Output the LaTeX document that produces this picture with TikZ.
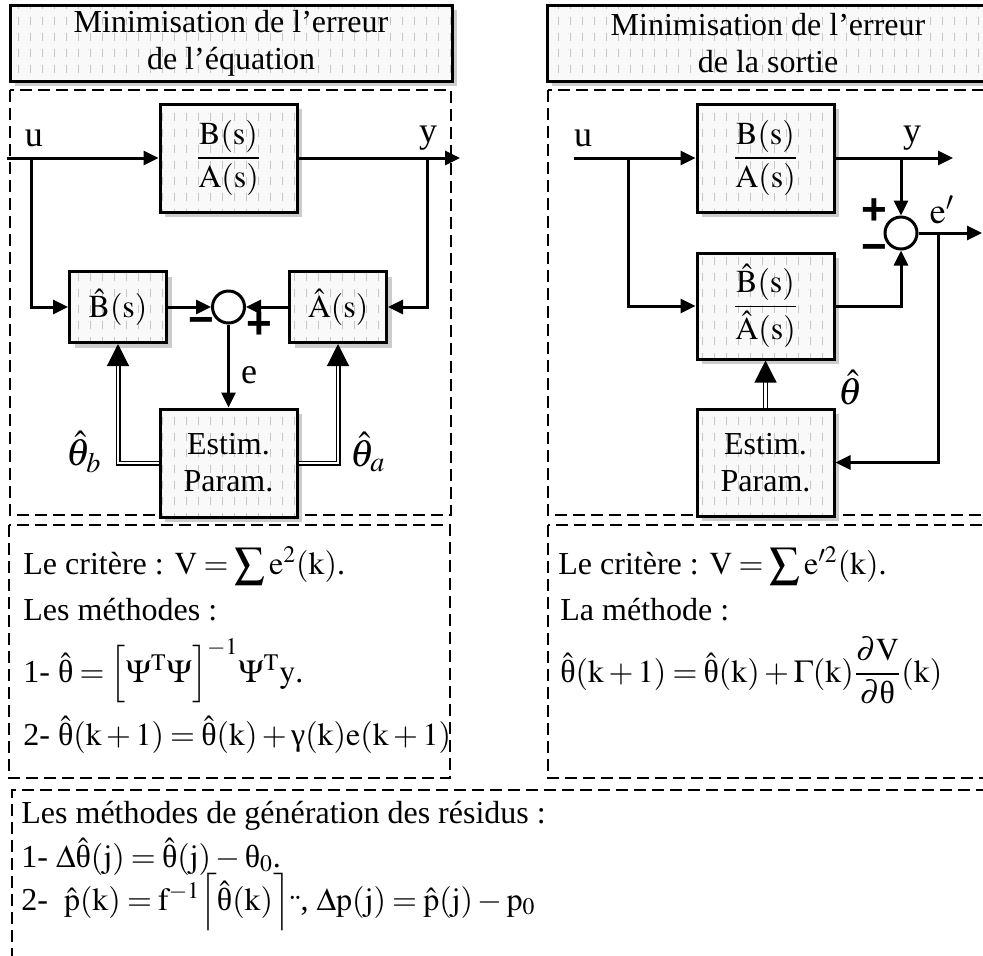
\documentclass[tikz,border=0pt]{standalone}
\usepackage{mathptmx}
\usepackage{amsmath}
\usepackage{fontspec}
\setmainfont{Liberation Serif}
\setsansfont{Liberation Sans}
\usetikzlibrary{arrows.meta,positioning,patterns,shadows}
\pgfdeclarepatternformonly{vdash}{\pgfqpoint{-1pt}{-1pt}}{\pgfqpoint{7pt}{9pt}}{\pgfqpoint{6pt}{8pt}}{\pgfsetlinewidth{0.5pt}\pgfpathmoveto{\pgfqpoint{3pt}{1pt}}\pgfpathlineto{\pgfqpoint{3pt}{5pt}}\pgfusepath{stroke}}
\newcommand{\thhat}{\hat{\text{θ}}}
\newcommand{\Vsum}{\mathop{\vcenter{\hbox{\scalebox{1.35}{$\sum$}}}}}
\medmuskip=2.5mu
\thickmuskip=3.5mu

\begin{document}
\begin{tikzpicture}[x=0.5pt,y=-0.5pt,every node/.style={font=\fontsize{16}{18.5}\selectfont},
hatch/.style={draw,line width=1.5pt,drop shadow={shadow xshift=2.5pt,shadow yshift=-2.5pt,opacity=1,fill=gray!40},preaction={fill=gray!5},pattern=vdash,pattern color=gray!45},
titlebox/.style={hatch,minimum width=221pt,minimum height=38pt,align=center,inner sep=0pt},
fr/.style={hatch,minimum width=68.5pt,minimum height=54pt,align=center,inner sep=0pt},
sm/.style={hatch,minimum width=48.5pt,minimum height=35.5pt,inner sep=0pt},
sum/.style={circle,draw,line width=1.5pt,minimum size=16pt,inner sep=0pt,fill=white},
arr/.style={line width=1.5pt,-{Triangle[length=7.5pt,width=7pt]}},
dbl/.style={double,double distance=1.3pt,line width=0.6pt,-{Triangle[length=11pt,width=11pt]}},
dbox/.style={line width=0.8pt,dash pattern=on 6pt off 3pt},
txt/.style={anchor=base west,inner sep=0pt},
lbl/.style={font=\fontsize{18}{18}\selectfont},
thl/.style={font=\fontsize{19}{19}\selectfont},
sgn/.style={font=\fontsize{22}{22}\sffamily\bfseries}]
\useasboundingbox (0,0) rectangle (983,955);
\clip (0,0) rectangle (983,955);
\draw[dbox] (10,90) rectangle (451,515);
\draw[dbox] (548,90) rectangle (989,515);
\draw[dbox] (9,525) rectangle (450,778);
\draw[dbox] (548,525) rectangle (989,778);
\draw[dbox] (12,960) -- (12,790) -- (995,790);
\node[titlebox] (T1) at (231,43) {Minimisation de l’erreur\\de l’équation};
\node[titlebox] (T2) at (768,43) {Minimisation de l’erreur\\de la sortie};
% erreur de l'equation
\node[fr] (G1) at (228.5,158) {$\dfrac{\mathrm{B}(\mathrm{s})}{\mathrm{A}(\mathrm{s})}$};
\node[sum,below=38pt of G1] (s1) {};
\node[sm,left=21.5pt of s1] (Bh) {$\hat{\mathrm{B}}(\mathrm{s})$};
\node[sm,right=21pt of s1] (Ah) {$\hat{\mathrm{A}}(\mathrm{s})$};
\node[fr,below=41.5pt of s1] (E1) {Estim.\\Param.};
\coordinate (u1) at (7,158); \coordinate (y1) at (460,158);
\coordinate (b1) at (31,158); \coordinate (b2) at (427,158);
\draw[arr](u1)--(G1);\draw[arr](G1)--(y1);\draw[arr](b1)|-(Bh);\draw[arr](b2)|-(Ah);
\draw[arr](Bh)--(s1);\draw[arr](Ah)--(s1);\draw[arr](s1)--(E1);
\draw[dbl](E1.west)-|(Bh);\draw[dbl](E1.east)-|(Ah);
\node[lbl] (lu1) at (34,138) {u};
\node[lbl] (ly1) at (428,138) {y};
\node[lbl] (le1) at (249,375) {e};
\node[sgn] (m1) at (201,326) {−};
\node[sgn] (p1) at (259,326) {+};
\node[thl] (tb) at (84,452) {$\hat{\theta}_b$};
\node[thl] (ta) at (368,452) {$\hat{\theta}_a$};
% erreur de la sortie
\node[fr] (G2) at (765.5,158) {$\dfrac{\mathrm{B}(\mathrm{s})}{\mathrm{A}(\mathrm{s})}$};
\node[fr,below=19pt of G2,minimum height=53pt] (G3) {$\dfrac{\hat{\mathrm{B}}(\mathrm{s})}{\hat{\mathrm{A}}(\mathrm{s})}$};
\node[fr,below=23.5pt of G3,minimum height=53.5pt] (E2) {Estim.\\Param.};
\node[sum] (s2) at (901,233) {};
\coordinate (u2) at (574,158); \coordinate (y2) at (953,158); \coordinate (o2) at (982,233);
\coordinate (b3) at (628,158); \coordinate (b4) at (901,158); \coordinate (b5) at (938,233);
\draw[arr](u2)--(G2);\draw[arr](G2)--(y2);\draw[arr](b3)|-(G3);\draw[arr](b4)--(s2);
\draw[arr](G3)-|(s2);\draw[arr](s2)--(o2);\draw[arr](b5)|-(E2);\draw[dbl](E2)--(G3);
\node[lbl] (lu2) at (583,138) {u};
\node[lbl] (ly2) at (912,138) {y};
\node[lbl] (le2) at (942,210) {$\mathrm{e}'$};
\node[sgn] (p2) at (874,212) {+};
\node[sgn] (m2) at (874,253) {−};
\node[thl] (th) at (851,388) {$\hat{\theta}$};
% textes
\node[txt] (c1) at (23,574) {Le critère : $\mathrm{V}=\Vsum\mathrm{e}^{2}(\mathrm{k})$.};
\node[txt] (c2) at (23,620) {Les méthodes :};
\node[txt] (c3) at (23,682) {1- $\thhat=\Bigl[\Psi^{\mathrm{T}}\Psi\Bigr]^{-1}\Psi^{\mathrm{T}}\mathrm{y}$.};
\node[txt] (c4) at (23,745) {2- $\thhat(\mathrm{k}+1)=\thhat(\mathrm{k})+\text{γ}(\mathrm{k})\mathrm{e}(\mathrm{k}+1)$};
\node[txt] (d1) at (558,574) {Le critère : $\mathrm{V}=\Vsum\mathrm{e}^{\prime 2}(\mathrm{k})$.};
\node[txt] (d2) at (560,620) {La méthode :};
\node[txt] (d3) at (560,682) {$\thhat(\mathrm{k}+1)=\thhat(\mathrm{k})+\Gamma(\mathrm{k})\dfrac{\partial\mathrm{V}}{\partial\text{θ}}(\mathrm{k})$};
\node[txt] (r1) at (21,823) {Les méthodes de génération des résidus :};
\node[txt] (r2) at (21,867) {1- $\Delta\thhat(\mathrm{j})=\thhat(\mathrm{j})-\text{θ}_{0}$.};
\node[txt] (r3) at (21,910) {2- \ $\hat{\mathrm{p}}(\mathrm{k})=\mathrm{f}^{-1}\Bigl\lceil\thhat(\mathrm{k})\Bigr\rceil$\raisebox{-0.2em}{¨}, $\Delta\mathrm{p}(\mathrm{j})=\hat{\mathrm{p}}(\mathrm{j})-\mathrm{p}_{0}$};
\end{tikzpicture}
\end{document}
